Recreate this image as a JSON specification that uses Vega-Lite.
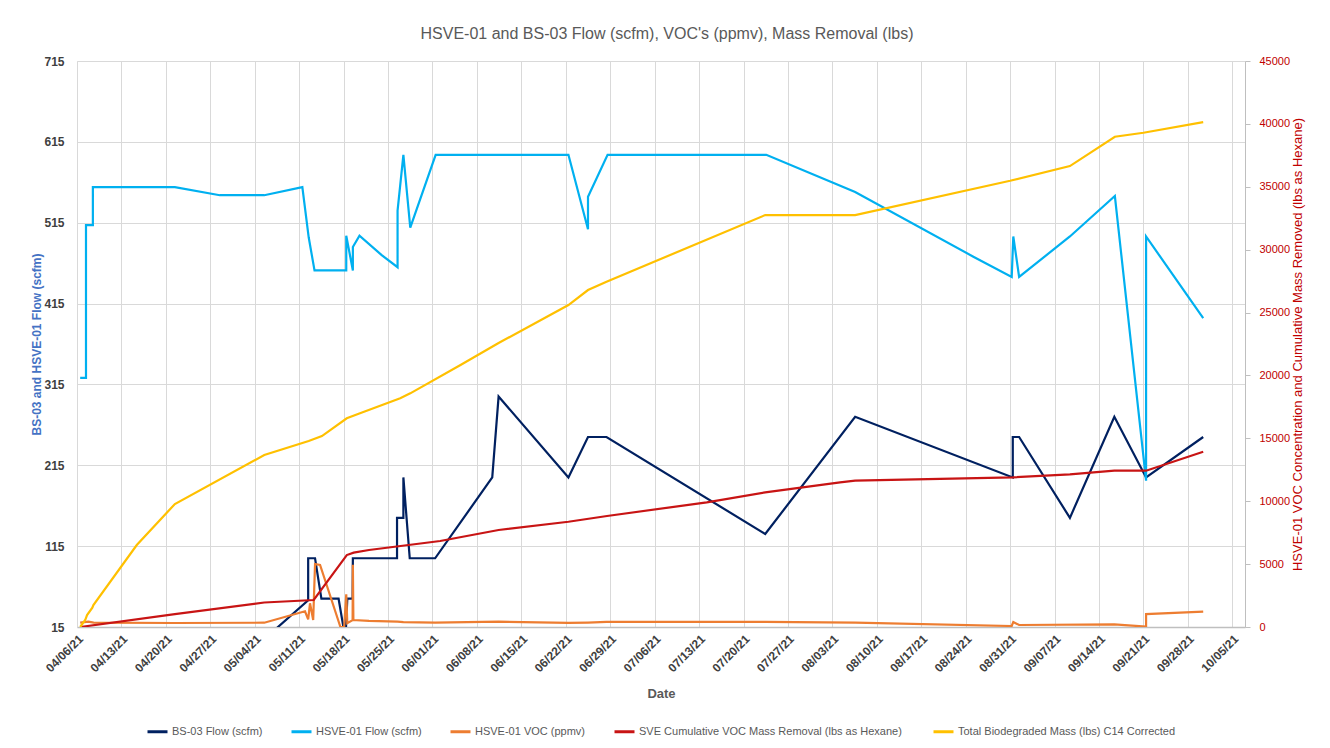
{
  "$schema": "https://vega.github.io/schema/vega-lite/v6.json",
  "width": 1168,
  "height": 566,
  "autosize": {"type": "none"},
  "padding": {"left": 77, "top": 61, "right": 85, "bottom": 121},
  "background": "white",
  "title": {"text": "HSVE-01 and BS-03 Flow (scfm), VOC's (ppmv), Mass Removal (lbs)", "fontSize": 16, "fontWeight": "normal", "color": "#595959", "font": "Liberation Sans", "offset": 13, "anchor": "middle", "dx": 6},
  "datasets": {
    "flow": [
      {"s": "BS-03 Flow (scfm)", "i": 1, "t": "2021-04-06T12:00:00Z", "v": 0},
      {"s": "BS-03 Flow (scfm)", "i": 2, "t": "2021-05-05T12:00:00Z", "v": 0},
      {"s": "BS-03 Flow (scfm)", "i": 3, "t": "2021-05-12T10:00:00Z", "v": 48},
      {"s": "BS-03 Flow (scfm)", "i": 4, "t": "2021-05-12T10:00:00Z", "v": 100},
      {"s": "BS-03 Flow (scfm)", "i": 5, "t": "2021-05-13T12:00:00Z", "v": 100},
      {"s": "BS-03 Flow (scfm)", "i": 6, "t": "2021-05-14T12:00:00Z", "v": 50},
      {"s": "BS-03 Flow (scfm)", "i": 7, "t": "2021-05-17T05:00:00Z", "v": 50},
      {"s": "BS-03 Flow (scfm)", "i": 8, "t": "2021-05-18T07:00:00Z", "v": 0},
      {"s": "BS-03 Flow (scfm)", "i": 9, "t": "2021-05-18T14:00:00Z", "v": 50},
      {"s": "BS-03 Flow (scfm)", "i": 10, "t": "2021-05-19T10:00:00Z", "v": 50},
      {"s": "BS-03 Flow (scfm)", "i": 11, "t": "2021-05-19T11:00:00Z", "v": 100},
      {"s": "BS-03 Flow (scfm)", "i": 12, "t": "2021-05-26T10:00:00Z", "v": 100},
      {"s": "BS-03 Flow (scfm)", "i": 13, "t": "2021-05-26T10:00:00Z", "v": 150},
      {"s": "BS-03 Flow (scfm)", "i": 14, "t": "2021-05-27T10:00:00Z", "v": 150},
      {"s": "BS-03 Flow (scfm)", "i": 15, "t": "2021-05-27T10:00:00Z", "v": 200},
      {"s": "BS-03 Flow (scfm)", "i": 16, "t": "2021-05-28T10:00:00Z", "v": 100},
      {"s": "BS-03 Flow (scfm)", "i": 17, "t": "2021-06-01T10:00:00Z", "v": 100},
      {"s": "BS-03 Flow (scfm)", "i": 18, "t": "2021-06-10T10:00:00Z", "v": 200},
      {"s": "BS-03 Flow (scfm)", "i": 19, "t": "2021-06-11T10:00:00Z", "v": 300},
      {"s": "BS-03 Flow (scfm)", "i": 20, "t": "2021-06-22T10:00:00Z", "v": 200},
      {"s": "BS-03 Flow (scfm)", "i": 21, "t": "2021-06-25T12:00:00Z", "v": 250},
      {"s": "BS-03 Flow (scfm)", "i": 22, "t": "2021-06-28T10:00:00Z", "v": 250},
      {"s": "BS-03 Flow (scfm)", "i": 23, "t": "2021-07-23T10:00:00Z", "v": 130},
      {"s": "BS-03 Flow (scfm)", "i": 24, "t": "2021-08-06T14:00:00Z", "v": 275},
      {"s": "BS-03 Flow (scfm)", "i": 25, "t": "2021-08-31T10:00:00Z", "v": 200},
      {"s": "BS-03 Flow (scfm)", "i": 26, "t": "2021-08-31T10:00:00Z", "v": 250},
      {"s": "BS-03 Flow (scfm)", "i": 27, "t": "2021-09-01T10:00:00Z", "v": 250},
      {"s": "BS-03 Flow (scfm)", "i": 28, "t": "2021-09-09T10:00:00Z", "v": 150},
      {"s": "BS-03 Flow (scfm)", "i": 29, "t": "2021-09-16T10:00:00Z", "v": 275},
      {"s": "BS-03 Flow (scfm)", "i": 30, "t": "2021-09-21T10:00:00Z", "v": 200},
      {"s": "BS-03 Flow (scfm)", "i": 31, "t": "2021-09-30T10:00:00Z", "v": 250},
      {"s": "HSVE-01 Flow (scfm)", "i": 1, "t": "2021-04-06T12:00:00Z", "v": 323},
      {"s": "HSVE-01 Flow (scfm)", "i": 2, "t": "2021-04-07T10:00:00Z", "v": 323},
      {"s": "HSVE-01 Flow (scfm)", "i": 3, "t": "2021-04-07T10:00:00Z", "v": 512},
      {"s": "HSVE-01 Flow (scfm)", "i": 4, "t": "2021-04-08T12:00:00Z", "v": 512},
      {"s": "HSVE-01 Flow (scfm)", "i": 5, "t": "2021-04-08T12:00:00Z", "v": 559},
      {"s": "HSVE-01 Flow (scfm)", "i": 6, "t": "2021-04-21T10:00:00Z", "v": 559},
      {"s": "HSVE-01 Flow (scfm)", "i": 7, "t": "2021-04-28T12:00:00Z", "v": 549},
      {"s": "HSVE-01 Flow (scfm)", "i": 8, "t": "2021-05-05T12:00:00Z", "v": 549},
      {"s": "HSVE-01 Flow (scfm)", "i": 9, "t": "2021-05-11T12:00:00Z", "v": 559},
      {"s": "HSVE-01 Flow (scfm)", "i": 10, "t": "2021-05-12T12:00:00Z", "v": 497},
      {"s": "HSVE-01 Flow (scfm)", "i": 11, "t": "2021-05-13T10:00:00Z", "v": 456},
      {"s": "HSVE-01 Flow (scfm)", "i": 12, "t": "2021-05-18T10:00:00Z", "v": 456},
      {"s": "HSVE-01 Flow (scfm)", "i": 13, "t": "2021-05-18T10:00:00Z", "v": 499},
      {"s": "HSVE-01 Flow (scfm)", "i": 14, "t": "2021-05-19T11:00:00Z", "v": 456},
      {"s": "HSVE-01 Flow (scfm)", "i": 15, "t": "2021-05-19T11:00:00Z", "v": 485},
      {"s": "HSVE-01 Flow (scfm)", "i": 16, "t": "2021-05-20T12:00:00Z", "v": 499},
      {"s": "HSVE-01 Flow (scfm)", "i": 17, "t": "2021-05-24T00:00:00Z", "v": 475},
      {"s": "HSVE-01 Flow (scfm)", "i": 18, "t": "2021-05-26T12:00:00Z", "v": 460},
      {"s": "HSVE-01 Flow (scfm)", "i": 19, "t": "2021-05-26T12:00:00Z", "v": 530},
      {"s": "HSVE-01 Flow (scfm)", "i": 20, "t": "2021-05-27T10:00:00Z", "v": 599},
      {"s": "HSVE-01 Flow (scfm)", "i": 21, "t": "2021-05-28T12:00:00Z", "v": 509},
      {"s": "HSVE-01 Flow (scfm)", "i": 22, "t": "2021-06-01T12:00:00Z", "v": 599},
      {"s": "HSVE-01 Flow (scfm)", "i": 23, "t": "2021-06-22T10:00:00Z", "v": 599},
      {"s": "HSVE-01 Flow (scfm)", "i": 24, "t": "2021-06-25T12:00:00Z", "v": 507},
      {"s": "HSVE-01 Flow (scfm)", "i": 25, "t": "2021-06-25T12:00:00Z", "v": 547},
      {"s": "HSVE-01 Flow (scfm)", "i": 26, "t": "2021-06-28T14:00:00Z", "v": 599},
      {"s": "HSVE-01 Flow (scfm)", "i": 27, "t": "2021-07-23T14:00:00Z", "v": 599},
      {"s": "HSVE-01 Flow (scfm)", "i": 28, "t": "2021-08-06T14:00:00Z", "v": 553},
      {"s": "HSVE-01 Flow (scfm)", "i": 29, "t": "2021-08-25T05:00:00Z", "v": 473},
      {"s": "HSVE-01 Flow (scfm)", "i": 30, "t": "2021-08-31T06:00:00Z", "v": 448},
      {"s": "HSVE-01 Flow (scfm)", "i": 31, "t": "2021-08-31T12:00:00Z", "v": 498},
      {"s": "HSVE-01 Flow (scfm)", "i": 32, "t": "2021-09-01T10:00:00Z", "v": 448},
      {"s": "HSVE-01 Flow (scfm)", "i": 33, "t": "2021-09-09T10:00:00Z", "v": 498},
      {"s": "HSVE-01 Flow (scfm)", "i": 34, "t": "2021-09-16T12:00:00Z", "v": 548},
      {"s": "HSVE-01 Flow (scfm)", "i": 35, "t": "2021-09-21T10:00:00Z", "v": 196},
      {"s": "HSVE-01 Flow (scfm)", "i": 36, "t": "2021-09-21T10:00:00Z", "v": 498},
      {"s": "HSVE-01 Flow (scfm)", "i": 37, "t": "2021-09-30T10:00:00Z", "v": 397}
    ],
    "mass": [
      {"s": "HSVE-01 VOC (ppmv)", "i": 1, "t": "2021-04-06T12:00:00Z", "v": 342},
      {"s": "HSVE-01 VOC (ppmv)", "i": 2, "t": "2021-04-07T19:00:00Z", "v": 420},
      {"s": "HSVE-01 VOC (ppmv)", "i": 3, "t": "2021-04-08T15:00:00Z", "v": 342},
      {"s": "HSVE-01 VOC (ppmv)", "i": 4, "t": "2021-04-21T10:00:00Z", "v": 320},
      {"s": "HSVE-01 VOC (ppmv)", "i": 5, "t": "2021-05-05T12:00:00Z", "v": 340},
      {"s": "HSVE-01 VOC (ppmv)", "i": 6, "t": "2021-05-11T22:00:00Z", "v": 1250},
      {"s": "HSVE-01 VOC (ppmv)", "i": 7, "t": "2021-05-12T10:00:00Z", "v": 612},
      {"s": "HSVE-01 VOC (ppmv)", "i": 8, "t": "2021-05-12T17:00:00Z", "v": 1884},
      {"s": "HSVE-01 VOC (ppmv)", "i": 9, "t": "2021-05-13T05:00:00Z", "v": 556},
      {"s": "HSVE-01 VOC (ppmv)", "i": 10, "t": "2021-05-13T12:00:00Z", "v": 5008},
      {"s": "HSVE-01 VOC (ppmv)", "i": 11, "t": "2021-05-14T07:00:00Z", "v": 4929},
      {"s": "HSVE-01 VOC (ppmv)", "i": 12, "t": "2021-05-17T12:00:00Z", "v": 0},
      {"s": "HSVE-01 VOC (ppmv)", "i": 13, "t": "2021-05-18T02:00:00Z", "v": 0},
      {"s": "HSVE-01 VOC (ppmv)", "i": 14, "t": "2021-05-18T10:00:00Z", "v": 2600},
      {"s": "HSVE-01 VOC (ppmv)", "i": 15, "t": "2021-05-18T14:00:00Z", "v": 300},
      {"s": "HSVE-01 VOC (ppmv)", "i": 16, "t": "2021-05-19T10:00:00Z", "v": 550},
      {"s": "HSVE-01 VOC (ppmv)", "i": 17, "t": "2021-05-19T11:00:00Z", "v": 4950},
      {"s": "HSVE-01 VOC (ppmv)", "i": 18, "t": "2021-05-19T13:00:00Z", "v": 550},
      {"s": "HSVE-01 VOC (ppmv)", "i": 19, "t": "2021-05-22T00:00:00Z", "v": 480},
      {"s": "HSVE-01 VOC (ppmv)", "i": 20, "t": "2021-05-26T12:00:00Z", "v": 420},
      {"s": "HSVE-01 VOC (ppmv)", "i": 21, "t": "2021-05-27T10:00:00Z", "v": 380},
      {"s": "HSVE-01 VOC (ppmv)", "i": 22, "t": "2021-06-01T10:00:00Z", "v": 350},
      {"s": "HSVE-01 VOC (ppmv)", "i": 23, "t": "2021-06-11T10:00:00Z", "v": 420},
      {"s": "HSVE-01 VOC (ppmv)", "i": 24, "t": "2021-06-22T10:00:00Z", "v": 330},
      {"s": "HSVE-01 VOC (ppmv)", "i": 25, "t": "2021-06-25T12:00:00Z", "v": 350},
      {"s": "HSVE-01 VOC (ppmv)", "i": 26, "t": "2021-06-28T10:00:00Z", "v": 400},
      {"s": "HSVE-01 VOC (ppmv)", "i": 27, "t": "2021-07-23T10:00:00Z", "v": 400},
      {"s": "HSVE-01 VOC (ppmv)", "i": 28, "t": "2021-08-06T14:00:00Z", "v": 340},
      {"s": "HSVE-01 VOC (ppmv)", "i": 29, "t": "2021-08-31T06:00:00Z", "v": 80},
      {"s": "HSVE-01 VOC (ppmv)", "i": 30, "t": "2021-08-31T12:00:00Z", "v": 400},
      {"s": "HSVE-01 VOC (ppmv)", "i": 31, "t": "2021-09-01T10:00:00Z", "v": 160},
      {"s": "HSVE-01 VOC (ppmv)", "i": 32, "t": "2021-09-16T10:00:00Z", "v": 210},
      {"s": "HSVE-01 VOC (ppmv)", "i": 33, "t": "2021-09-21T10:00:00Z", "v": 30},
      {"s": "HSVE-01 VOC (ppmv)", "i": 34, "t": "2021-09-21T10:00:00Z", "v": 1030},
      {"s": "HSVE-01 VOC (ppmv)", "i": 35, "t": "2021-09-30T10:00:00Z", "v": 1220},
      {"s": "SVE Cumulative VOC Mass Removal  (lbs as Hexane)", "i": 1, "t": "2021-04-06T12:00:00Z", "v": 0},
      {"s": "SVE Cumulative VOC Mass Removal  (lbs as Hexane)", "i": 2, "t": "2021-04-21T10:00:00Z", "v": 1030},
      {"s": "SVE Cumulative VOC Mass Removal  (lbs as Hexane)", "i": 3, "t": "2021-05-05T12:00:00Z", "v": 1950},
      {"s": "SVE Cumulative VOC Mass Removal  (lbs as Hexane)", "i": 4, "t": "2021-05-13T07:00:00Z", "v": 2146},
      {"s": "SVE Cumulative VOC Mass Removal  (lbs as Hexane)", "i": 5, "t": "2021-05-18T12:00:00Z", "v": 5720},
      {"s": "SVE Cumulative VOC Mass Removal  (lbs as Hexane)", "i": 6, "t": "2021-05-19T14:00:00Z", "v": 5910},
      {"s": "SVE Cumulative VOC Mass Removal  (lbs as Hexane)", "i": 7, "t": "2021-05-22T00:00:00Z", "v": 6120},
      {"s": "SVE Cumulative VOC Mass Removal  (lbs as Hexane)", "i": 8, "t": "2021-06-02T05:00:00Z", "v": 6836},
      {"s": "SVE Cumulative VOC Mass Removal  (lbs as Hexane)", "i": 9, "t": "2021-06-11T10:00:00Z", "v": 7710},
      {"s": "SVE Cumulative VOC Mass Removal  (lbs as Hexane)", "i": 10, "t": "2021-06-22T10:00:00Z", "v": 8370},
      {"s": "SVE Cumulative VOC Mass Removal  (lbs as Hexane)", "i": 11, "t": "2021-06-28T12:00:00Z", "v": 8823},
      {"s": "SVE Cumulative VOC Mass Removal  (lbs as Hexane)", "i": 12, "t": "2021-07-14T05:00:00Z", "v": 9912},
      {"s": "SVE Cumulative VOC Mass Removal  (lbs as Hexane)", "i": 13, "t": "2021-07-23T10:00:00Z", "v": 10707},
      {"s": "SVE Cumulative VOC Mass Removal  (lbs as Hexane)", "i": 14, "t": "2021-08-04T05:00:00Z", "v": 11502},
      {"s": "SVE Cumulative VOC Mass Removal  (lbs as Hexane)", "i": 15, "t": "2021-08-06T14:00:00Z", "v": 11630},
      {"s": "SVE Cumulative VOC Mass Removal  (lbs as Hexane)", "i": 16, "t": "2021-08-31T10:00:00Z", "v": 11900},
      {"s": "SVE Cumulative VOC Mass Removal  (lbs as Hexane)", "i": 17, "t": "2021-09-09T10:00:00Z", "v": 12138},
      {"s": "SVE Cumulative VOC Mass Removal  (lbs as Hexane)", "i": 18, "t": "2021-09-16T10:00:00Z", "v": 12425},
      {"s": "SVE Cumulative VOC Mass Removal  (lbs as Hexane)", "i": 19, "t": "2021-09-21T10:00:00Z", "v": 12425},
      {"s": "SVE Cumulative VOC Mass Removal  (lbs as Hexane)", "i": 20, "t": "2021-09-30T10:00:00Z", "v": 13935},
      {"s": "Total Biodegraded Mass (lbs) C14 Corrected", "i": 1, "t": "2021-04-06T12:00:00Z", "v": 0},
      {"s": "Total Biodegraded Mass (lbs) C14 Corrected", "i": 2, "t": "2021-04-07T07:00:00Z", "v": 556},
      {"s": "Total Biodegraded Mass (lbs) C14 Corrected", "i": 3, "t": "2021-04-07T14:00:00Z", "v": 954},
      {"s": "Total Biodegraded Mass (lbs) C14 Corrected", "i": 4, "t": "2021-04-08T10:00:00Z", "v": 1534},
      {"s": "Total Biodegraded Mass (lbs) C14 Corrected", "i": 5, "t": "2021-04-08T14:00:00Z", "v": 1749},
      {"s": "Total Biodegraded Mass (lbs) C14 Corrected", "i": 6, "t": "2021-04-15T10:00:00Z", "v": 6518},
      {"s": "Total Biodegraded Mass (lbs) C14 Corrected", "i": 7, "t": "2021-04-21T10:00:00Z", "v": 9777},
      {"s": "Total Biodegraded Mass (lbs) C14 Corrected", "i": 8, "t": "2021-05-05T12:00:00Z", "v": 13672},
      {"s": "Total Biodegraded Mass (lbs) C14 Corrected", "i": 9, "t": "2021-05-12T12:00:00Z", "v": 14785},
      {"s": "Total Biodegraded Mass (lbs) C14 Corrected", "i": 10, "t": "2021-05-14T14:00:00Z", "v": 15183},
      {"s": "Total Biodegraded Mass (lbs) C14 Corrected", "i": 11, "t": "2021-05-18T12:00:00Z", "v": 16590},
      {"s": "Total Biodegraded Mass (lbs) C14 Corrected", "i": 12, "t": "2021-05-20T14:00:00Z", "v": 16987},
      {"s": "Total Biodegraded Mass (lbs) C14 Corrected", "i": 13, "t": "2021-05-26T22:00:00Z", "v": 18180},
      {"s": "Total Biodegraded Mass (lbs) C14 Corrected", "i": 14, "t": "2021-05-28T12:00:00Z", "v": 18577},
      {"s": "Total Biodegraded Mass (lbs) C14 Corrected", "i": 15, "t": "2021-06-05T10:00:00Z", "v": 20827},
      {"s": "Total Biodegraded Mass (lbs) C14 Corrected", "i": 16, "t": "2021-06-11T10:00:00Z", "v": 22575},
      {"s": "Total Biodegraded Mass (lbs) C14 Corrected", "i": 17, "t": "2021-06-22T10:00:00Z", "v": 25600},
      {"s": "Total Biodegraded Mass (lbs) C14 Corrected", "i": 18, "t": "2021-06-25T12:00:00Z", "v": 26790},
      {"s": "Total Biodegraded Mass (lbs) C14 Corrected", "i": 19, "t": "2021-06-28T10:00:00Z", "v": 27450},
      {"s": "Total Biodegraded Mass (lbs) C14 Corrected", "i": 20, "t": "2021-07-23T10:00:00Z", "v": 32750},
      {"s": "Total Biodegraded Mass (lbs) C14 Corrected", "i": 21, "t": "2021-08-06T14:00:00Z", "v": 32750},
      {"s": "Total Biodegraded Mass (lbs) C14 Corrected", "i": 22, "t": "2021-08-31T00:00:00Z", "v": 35477},
      {"s": "Total Biodegraded Mass (lbs) C14 Corrected", "i": 23, "t": "2021-09-09T10:00:00Z", "v": 36645},
      {"s": "Total Biodegraded Mass (lbs) C14 Corrected", "i": 24, "t": "2021-09-16T12:00:00Z", "v": 38975},
      {"s": "Total Biodegraded Mass (lbs) C14 Corrected", "i": 25, "t": "2021-09-21T00:00:00Z", "v": 39293},
      {"s": "Total Biodegraded Mass (lbs) C14 Corrected", "i": 26, "t": "2021-09-30T10:00:00Z", "v": 40143}
    ]
  },
  "encoding": {
    "x": {
      "field": "t",
      "type": "temporal",
      "scale": {"type": "utc", "domain": [{"year": 2021, "month": 4, "date": 6, "utc": true}, {"year": 2021, "month": 10, "date": 7, "utc": true}]},
      "axis": {
        "values": [
          {"year": 2021, "month": 4, "date": 6, "utc": true},
          {"year": 2021, "month": 4, "date": 13, "utc": true},
          {"year": 2021, "month": 4, "date": 20, "utc": true},
          {"year": 2021, "month": 4, "date": 27, "utc": true},
          {"year": 2021, "month": 5, "date": 4, "utc": true},
          {"year": 2021, "month": 5, "date": 11, "utc": true},
          {"year": 2021, "month": 5, "date": 18, "utc": true},
          {"year": 2021, "month": 5, "date": 25, "utc": true},
          {"year": 2021, "month": 6, "date": 1, "utc": true},
          {"year": 2021, "month": 6, "date": 8, "utc": true},
          {"year": 2021, "month": 6, "date": 15, "utc": true},
          {"year": 2021, "month": 6, "date": 22, "utc": true},
          {"year": 2021, "month": 6, "date": 29, "utc": true},
          {"year": 2021, "month": 7, "date": 6, "utc": true},
          {"year": 2021, "month": 7, "date": 13, "utc": true},
          {"year": 2021, "month": 7, "date": 20, "utc": true},
          {"year": 2021, "month": 7, "date": 27, "utc": true},
          {"year": 2021, "month": 8, "date": 3, "utc": true},
          {"year": 2021, "month": 8, "date": 10, "utc": true},
          {"year": 2021, "month": 8, "date": 17, "utc": true},
          {"year": 2021, "month": 8, "date": 24, "utc": true},
          {"year": 2021, "month": 8, "date": 31, "utc": true},
          {"year": 2021, "month": 9, "date": 7, "utc": true},
          {"year": 2021, "month": 9, "date": 14, "utc": true},
          {"year": 2021, "month": 9, "date": 21, "utc": true},
          {"year": 2021, "month": 9, "date": 28, "utc": true},
          {"year": 2021, "month": 10, "date": 5, "utc": true}
        ],
        "format": "%m/%d/%y",
        "labelAngle": -45,
        "labelFontSize": 12,
        "labelFontWeight": "bold",
        "labelColor": "#404040",
        "labelPadding": 6,
        "labelFlush": false,
        "labelOverlap": false,
        "labelBound": false,
        "title": "Date",
        "titleFontSize": 13,
        "titleFontWeight": "bold",
        "titleColor": "#595959",
        "titlePadding": 14,
        "grid": true,
        "gridColor": "#D9D9D9",
        "ticks": false,
        "domainColor": "#BFBFBF",
        "domainWidth": 1.5
      }
    },
    "color": {
      "field": "s",
      "type": "nominal",
      "scale": {
        "domain": ["BS-03 Flow (scfm)", "HSVE-01 Flow (scfm)", "HSVE-01 VOC (ppmv)", "SVE Cumulative VOC Mass Removal  (lbs as Hexane)", "Total Biodegraded Mass (lbs) C14 Corrected"],
        "range": ["#002060", "#00B0F0", "#ED7D31", "#C81414", "#FFC000"]
      },
      "legend": {"orient": "none", "legendX": 69, "legendY": 659, "direction": "horizontal", "title": null, "columnPadding": 22, "labelFontSize": 11, "labelColor": "#595959", "labelFont": "Liberation Sans", "labelLimit": 0, "symbolType": "stroke", "symbolStrokeWidth": 3, "symbolSize": 400, "labelOffset": 3}
    },
    "order": {"field": "i", "type": "quantitative"}
  },
  "layer": [
    {
      "data": {"name": "flow"},
      "mark": {"type": "line", "strokeWidth": 2.2, "clip": true},
      "encoding": {
        "y": {
          "field": "v",
          "type": "quantitative",
          "scale": {"domain": [15, 715], "nice": false, "zero": false},
          "axis": {
            "orient": "left",
            "values": [15, 115, 215, 315, 415, 515, 615, 715],
            "format": "d",
            "title": "BS-03 and HSVE-01 Flow (scfm)",
            "titleColor": "#4472C4",
            "titleFontWeight": "bold",
            "titleFontSize": 12,
            "titlePadding": 0,
            "labelFontWeight": "bold",
            "labelFontSize": 12,
            "labelColor": "#404040",
            "labelPadding": 13,
            "grid": true,
            "gridColor": "#D9D9D9",
            "ticks": false,
            "domainColor": "#D9D9D9"
          }
        }
      }
    },
    {
      "data": {"name": "mass"},
      "mark": {"type": "line", "strokeWidth": 2.2, "clip": true},
      "encoding": {
        "y": {
          "field": "v",
          "type": "quantitative",
          "scale": {"domain": [0, 45000], "nice": false, "zero": false},
          "axis": {
            "orient": "right",
            "values": [0, 5000, 10000, 15000, 20000, 25000, 30000, 35000, 40000, 45000],
            "format": "d",
            "title": "HSVE-01 VOC Concentration and Cumulative Mass Removed (lbs as Hexane)",
            "titleColor": "#C00000",
            "titleFontWeight": "normal",
            "titleFontSize": 13,
            "titleAngle": 270,
            "titlePadding": 15,
            "labelColor": "#C00000",
            "labelFontSize": 11,
            "labelPadding": 9,
            "grid": false,
            "ticks": true,
            "tickSize": 5,
            "tickColor": "#BFBFBF",
            "domainColor": "#BFBFBF"
          }
        }
      }
    }
  ],
  "resolve": {"scale": {"y": "independent"}},
  "config": {
    "font": "Liberation Sans",
    "view": {"stroke": null},
    "axis": {"labelFont": "Liberation Sans", "titleFont": "Liberation Sans"}
  }
}
